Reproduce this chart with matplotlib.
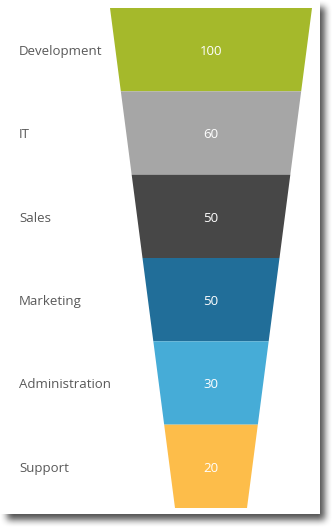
import numpy as np
import matplotlib.pyplot as plt
from matplotlib.patches import Polygon, Rectangle

categories = ['Development', 'IT', 'Sales', 'Marketing', 'Administration', 'Support']
values = [100, 60, 50, 50, 30, 20]
colors = ['#a5b92b', '#a6a6a6', '#474747', '#216e99', '#46acd7', '#fdbd4a']

W, H = 336, 531
fig = plt.figure(figsize=(W / 100, H / 100), dpi=100)
ax = fig.add_axes([0, 0, 1, 1])
ax.set_xlim(0, W)
ax.set_ylim(H, 0)
ax.axis('off')

# drop shadow behind the white panel
panel_w, panel_h = 320, 514
yy, xx = np.mgrid[0:H, 0:W]
mask = ((xx >= 6) & (xx < panel_w + 4) & (yy >= 6) & (yy < panel_h + 5)).astype(float)
k = 8
kern = np.ones(k) / k
for _ in range(2):
    mask = np.apply_along_axis(lambda r: np.convolve(r, kern, mode='same'), 1, mask)
    mask = np.apply_along_axis(lambda c: np.convolve(c, kern, mode='same'), 0, mask)
rgba = np.zeros((H, W, 4))
rgba[..., 3] = mask * 0.68
ax.imshow(rgba, extent=(0, W, H, 0), zorder=0, interpolation='bilinear')
ax.add_patch(Rectangle((0, 0), panel_w, panel_h, facecolor='white', edgecolor='none', zorder=1))

# funnel geometry
top, bottom = 8, 508
cx = 211
top_w, bot_w = 202, 72
n = len(categories)
seg_h = (bottom - top) / n


def half_width(y):
    return (top_w + (bot_w - top_w) * (y - top) / (bottom - top)) / 2


for i, (cat, val, col) in enumerate(zip(categories, values, colors)):
    y0 = top + i * seg_h
    y1 = y0 + seg_h
    pts = [(cx - half_width(y0), y0), (cx + half_width(y0), y0),
           (cx + half_width(y1), y1), (cx - half_width(y1), y1)]
    ax.add_patch(Polygon(pts, closed=True, facecolor=col, edgecolor='none', zorder=2))
    ym = (y0 + y1) / 2 + 1.8
    ax.text(cx, ym, str(val), color='white', fontsize=9.5, family='Open Sans',
            ha='center', va='center', zorder=3)
    ax.text(19, ym, cat, color='#595959', fontsize=9.5, family='Open Sans',
            ha='left', va='center', zorder=3)

fig.savefig('out.png', dpi=100)
